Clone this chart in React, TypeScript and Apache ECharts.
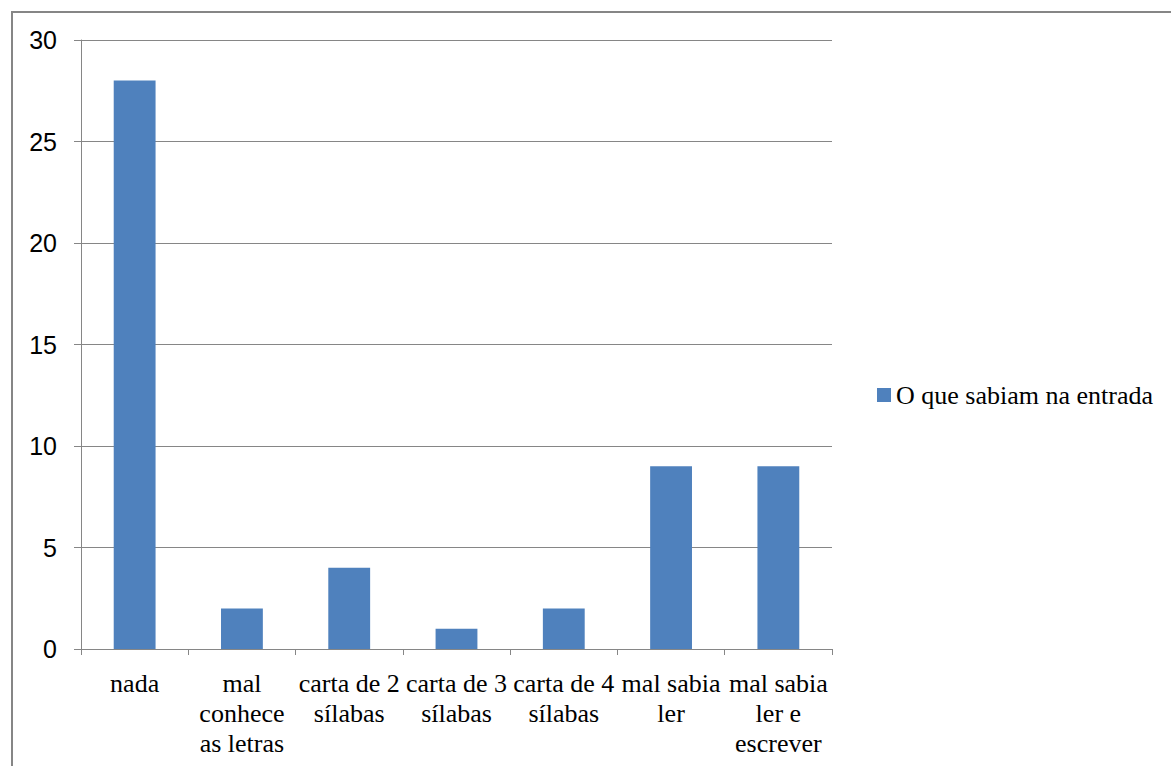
import React, { useEffect, useRef } from "react";
import * as echarts from "echarts";

const categories = [
  "nada",
  "mal conhece as letras",
  "carta de 2 sílabas",
  "carta de 3 sílabas",
  "carta de 4 sílabas",
  "mal sabia ler",
  "mal sabia ler e escrever",
];
const tickLabels = [
  "nada",
  "mal\nconhece\nas letras",
  "carta de 2\nsílabas",
  "carta de 3\nsílabas",
  "carta de 4\nsílabas",
  "mal sabia\nler",
  "mal sabia\nler e\nescrever",
];
const values = [28, 2, 4, 1, 2, 9, 9];
const seriesName = "O que sabiam na entrada";
const yTicks = { min: 0, max: 30, interval: 5 };

const SERIF = "'Liberation Serif', 'Times New Roman', Times, serif";
const SANS = "'Liberation Sans', Arial, Helvetica, sans-serif";

export default function App() {
  const ref = useRef<HTMLDivElement>(null);
  useEffect(() => {
    if (!ref.current) return;
    const chart = echarts.init(ref.current, null, { renderer: "svg" });
    const gray = "#868686";
    chart.setOption({
      animation: false,
      backgroundColor: "#ffffff",
      grid: { left: 81, right: 339, top: 40, bottom: 117, containLabel: false },
      legend: {
        data: [seriesName],
        left: 872,
        top: 377,
        icon: "rect",
        itemWidth: 14,
        itemHeight: 14,
        itemGap: 10,
        textStyle: { fontFamily: SERIF, fontSize: 26, color: "#000" },
      },
      xAxis: {
        type: "category",
        data: categories,
        axisLine: { lineStyle: { color: gray, width: 1 } },
        axisTick: { show: true, length: 6, lineStyle: { color: gray } },
        axisLabel: {
          interval: 0,
          margin: 19,
          fontFamily: SERIF,
          fontSize: 26,
          lineHeight: 30,
          color: "#000",
          formatter: (_v: string, i: number) => tickLabels[i],
        },
      },
      yAxis: {
        type: "value",
        min: yTicks.min,
        max: yTicks.max,
        interval: yTicks.interval,
        axisLine: { show: true, lineStyle: { color: gray, width: 1 } },
        axisTick: { show: true, length: 7, lineStyle: { color: gray } },
        splitLine: { show: true, lineStyle: { color: gray, width: 1 } },
        axisLabel: {
          margin: 24,
          fontFamily: SANS,
          fontSize: 25,
          color: "#000",
        },
      },
      series: [
        {
          name: seriesName,
          type: "bar",
          data: values,
          barCategoryGap: "61%",
          itemStyle: { color: "#4F81BD" },
        },
      ],
      graphic: [
        {
          type: "polyline",
          shape: { points: [[12, 766], [12, 12], [1171, 12]] },
          style: { stroke: gray, lineWidth: 2, fill: "none" },
          silent: true,
        },
      ],
    });
    return () => chart.dispose();
  }, []);
  return (
    <div
      ref={ref}
      style={{ position: "absolute", left: 0, top: 0, width: 1171, height: 766 }}
    />
  );
}
